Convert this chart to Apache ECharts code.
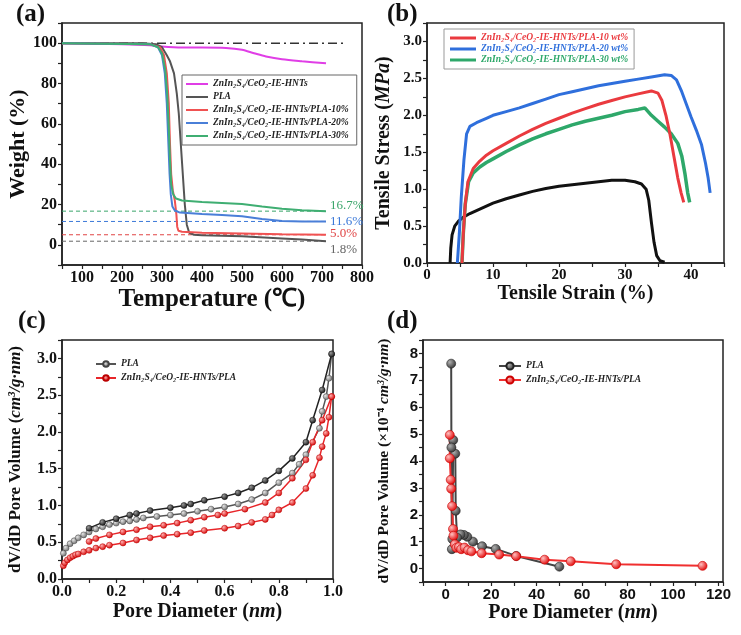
<!DOCTYPE html>
<html>
<head>
<meta charset="utf-8" />
<title>TGA / tensile / pore figure</title>
<script src="https://cdn.jsdelivr.net/npm/echarts@6.0.0/dist/echarts.min.js"></script>
<style>
  body { margin: 0; background: #fff; }
  #main { width: 741px; height: 635px; }
</style>
</head>
<body>
<div id="main"></div>
<script type="text/javascript">
    // ---- (a) TGA curves, [temperature, weight %]
    var tgaHnts = [[50,100],[200,99.5],[270,99],[300,98.3],[350,97.8],[400,97.8],[460,97.6],[500,96.7],[530,95],[560,93.4],[600,92],[650,91],[710,90]];
    var tgaPla = [[50,100],[250,100],[285,99.5],[300,98],[312,94],[320,91],[330,85],[337,75],[342,65],[347,50],[352,35],[357,20],[362,10],[368,6],[380,5],[400,4.7],[500,4.2],[600,3.2],[650,2.6],[710,1.8]];
    var tga10 = [[50,100],[270,99.5],[295,98],[305,94],[312,85],[317,70],[320,50],[323,35],[327,27],[332,22],[336,15],[338,9],[341,7],[350,6.5],[400,6],[500,5.6],[600,5.2],[710,5]];
    var tga20 = [[50,100],[270,99.5],[290,98],[300,94],[307,85],[312,70],[316,50],[319,35],[322,25],[326,19],[332,17],[345,16],[400,15.3],[450,14.8],[500,14.2],[550,12.8],[600,11.8],[650,11.6],[710,11.6]];
    var tga30 = [[50,100],[270,99.5],[290,98],[300,95],[308,87],[313,75],[317,58],[320,42],[323,30],[328,25],[335,23],[350,22],[400,21.2],[450,20.8],[500,20.2],[550,19],[600,17.9],[650,17.1],[710,16.6]];
    var residues = [16.7, 11.6, 5.0, 1.8];
    var residueText = ['16.7%', '11.6%', '5.0%', '1.8%'];

    // ---- (b) stress-strain, [strain %, stress MPa]
    var ssPla = [[3.5,0],[3.6,0.2],[3.8,0.38],[4.2,0.5],[4.8,0.57],[5.5,0.62],[6.5,0.67],[8,0.73],[10,0.81],[12,0.87],[14,0.92],[16,0.97],[18,1.01],[20,1.04],[22,1.06],[24,1.08],[26,1.1],[28,1.12],[30,1.12],[31.5,1.1],[32.5,1.07],[33.2,1.0],[33.6,0.85],[34,0.55],[34.4,0.28],[34.8,0.1],[35.3,0.03],[36,0.01]];
    var ss10 = [[5.3,0],[5.5,0.4],[5.8,0.8],[6.2,1.1],[7,1.28],[8,1.38],[9,1.46],[10,1.52],[12,1.62],[14,1.72],[16,1.81],[18,1.89],[20,1.96],[22,2.03],[24,2.09],[26,2.15],[28,2.2],[30,2.25],[32,2.29],[34,2.33],[35,2.3],[35.6,2.2],[36.2,2.0],[36.8,1.75],[37.4,1.45],[38,1.15],[38.5,0.95],[38.9,0.82]];
    var ss20 = [[4.6,0],[4.9,0.4],[5.2,0.9],[5.6,1.4],[6,1.75],[6.5,1.85],[7.5,1.9],[9,1.96],[10,2.0],[12,2.05],[14,2.1],[16,2.16],[18,2.22],[20,2.28],[22,2.32],[24,2.36],[26,2.4],[28,2.43],[30,2.46],[32,2.49],[34,2.52],[36,2.55],[37,2.54],[37.8,2.48],[38.6,2.32],[39.3,2.15],[40,1.98],[40.8,1.8],[41.6,1.6],[42.2,1.35],[42.6,1.15],[42.9,0.95]];
    var ss30 = [[5.3,0],[5.5,0.4],[5.8,0.8],[6.3,1.1],[7,1.22],[8,1.3],[9,1.36],[10,1.41],[12,1.51],[14,1.6],[16,1.68],[18,1.75],[20,1.81],[22,1.87],[24,1.92],[26,1.96],[28,2.0],[30,2.05],[32,2.08],[33,2.1],[34,2.0],[35,1.92],[36,1.84],[37,1.75],[38,1.62],[38.6,1.45],[39.1,1.2],[39.5,0.95],[39.8,0.82]];

    // ---- (c) two branches per sample
    var cPlaAds = [[0.005,0.35],[0.015,0.42],[0.03,0.48],[0.045,0.52],[0.06,0.56],[0.08,0.6],[0.1,0.64],[0.125,0.68],[0.15,0.71],[0.175,0.74],[0.2,0.76],[0.225,0.78],[0.25,0.79],[0.275,0.81],[0.3,0.83],[0.35,0.85],[0.4,0.87],[0.45,0.89],[0.5,0.92],[0.55,0.95],[0.6,0.98],[0.65,1.02],[0.7,1.08],[0.75,1.17],[0.8,1.31],[0.85,1.44],[0.875,1.56],[0.9,1.69],[0.95,2.05],[0.96,2.28],[0.975,2.48],[0.985,2.73],[0.995,3.06]];
    var cPlaDes = [[0.995,3.06],[0.96,2.57],[0.925,2.16],[0.9,1.86],[0.85,1.64],[0.8,1.47],[0.75,1.34],[0.7,1.24],[0.65,1.17],[0.6,1.12],[0.525,1.07],[0.475,1.02],[0.45,1.0],[0.4,0.97],[0.325,0.93],[0.275,0.89],[0.25,0.87],[0.2,0.82],[0.15,0.77],[0.1,0.69]];
    var cCompAds = [[0.005,0.18],[0.01,0.22],[0.02,0.26],[0.03,0.29],[0.04,0.31],[0.05,0.33],[0.06,0.34],[0.08,0.37],[0.1,0.39],[0.125,0.42],[0.15,0.44],[0.175,0.46],[0.225,0.49],[0.275,0.53],[0.325,0.56],[0.375,0.59],[0.425,0.61],[0.475,0.63],[0.525,0.66],[0.6,0.69],[0.65,0.72],[0.7,0.77],[0.75,0.81],[0.775,0.87],[0.8,0.94],[0.85,1.04],[0.9,1.23],[0.925,1.41],[0.95,1.65],[0.96,1.8],[0.975,1.98],[0.985,2.2],[0.995,2.48]];
    var cCompDes = [[0.995,2.48],[0.96,2.16],[0.925,1.86],[0.9,1.62],[0.85,1.37],[0.8,1.17],[0.75,1.04],[0.675,0.95],[0.6,0.89],[0.575,0.87],[0.525,0.84],[0.475,0.8],[0.425,0.76],[0.375,0.73],[0.325,0.71],[0.275,0.67],[0.225,0.64],[0.175,0.6],[0.125,0.55],[0.1,0.51]];

    // ---- (d) pore size distribution
    var dPla = [[50,0.07],[31,0.47],[22,0.73],[16,0.83],[12,1.0],[9.5,1.18],[8,1.25],[6.5,1.27],[5,1.15],[4.4,2.15],[4.2,4.27],[3.3,4.78],[2.9,1.1],[2.7,0.72],[2.5,4.5],[2.4,7.62]];
    var dComp = [[1.8,4.97],[1.8,4.1],[2.2,3.3],[2.4,2.97],[2.8,2.32],[3.2,1.47],[3.4,1.22],[4,0.9],[4.7,0.77],[5.8,0.8],[6.8,0.72],[8.3,0.78],[9.8,0.68],[11.3,0.64],[15.8,0.57],[23.5,0.52],[31,0.46],[43.5,0.33],[55,0.27],[75,0.16],[113,0.1]];

    var SERIF = "'Liberation Serif','Times New Roman',serif";
    var SANS = "'Liberation Sans',Arial,sans-serif";
    var ZN = 'ZnIn₂S₄/CeO₂-IE-HNTs';

    function ball(light, dark) {
        return { type: 'radial', x: 0.35, y: 0.35, r: 0.7,
            colorStops: [{ offset: 0, color: light }, { offset: 1, color: dark }] };
    }

    function axis(grid, min, max, step, fmt, font, size, name, gap, nameSize) {
        return {
            type: 'value', gridIndex: grid, min: min, max: max, interval: step,
            name: name, nameLocation: 'middle', nameGap: gap,
            nameTextStyle: { fontFamily: SERIF, fontWeight: 'bold', fontSize: nameSize, color: '#111',
                rich: { i: { fontFamily: SERIF, fontWeight: 'bold', fontStyle: 'italic', fontSize: nameSize, color: '#111' } } },
            axisLine: { show: true, onZero: false, lineStyle: { color: '#222', width: 1.5 } },
            axisTick: { show: true, inside: false, length: 4, lineStyle: { color: '#222', width: 1.2 } },
            axisLabel: { formatter: fmt, fontFamily: font, fontWeight: 'bold', fontSize: size, color: '#111', margin: 5 },
            splitLine: { show: false }
        };
    }

    var grids = [
        { left: 62, top: 23, width: 300, height: 242 },
        { left: 427, top: 23, width: 297, height: 240 },
        { left: 62, top: 340, width: 271, height: 239 },
        { left: 423, top: 340, width: 300, height: 242 }
    ].map(function (g) {
        g.show = true; g.borderColor = '#222'; g.borderWidth = 1.5; g.outerBoundsMode = 'none';
        return g;
    });

    var halfFmt = function (v) { return (Math.round(v * 100) % 50 === 0 && v <= 3) ? v.toFixed(1) : ''; };

    var xAxes = [
        axis(0, 50, 800, 50, function (v) { return v % 100 === 0 ? String(v) : ''; }, SERIF, 16, 'Temperature (℃)', 21, 25),
        axis(1, 0, 45, 5, function (v) { return (v % 10 === 0 && v <= 40) ? String(v) : ''; }, SERIF, 15, 'Tensile Strain (%)', 16, 20),
        axis(2, 0, 1, 0.1, function (v) { return Math.round(v * 10) % 2 === 0 ? v.toFixed(1) : ''; }, SERIF, 16, 'Pore Diameter ({i|nm})', 23, 20),
        axis(3, -10, 122, 10, function (v) { return (v >= 0 && v <= 120 && v % 20 === 0) ? String(v) : ''; }, SANS, 15, 'Pore Diameter ({i|nm})', 21, 20)
    ];
    var yAxes = [
        axis(0, -10, 110, 10, function (v) { return (v >= 0 && v <= 100 && v % 20 === 0) ? String(v) : ''; }, SERIF, 16, 'Weight (%)', 30, 22),
        axis(1, 0, 3.25, 0.25, halfFmt, SERIF, 15, 'Tensile Stress ({i|MPa})', 33, 20),
        axis(2, 0, 3.25, 0.25, halfFmt, SERIF, 16, 'dV/dD Pore Volume ({i|cm³/g·nm})', 38, 17),
        axis(3, -0.5, 8.5, 0.5, function (v) { return (Number.isInteger(v) && v >= 0 && v <= 8) ? String(v) : ''; }, SANS, 15, 'dV/dD Pore Volume (×10⁻⁴ {i|cm³/g·nm})', 31, 15.5)
    ];

    var series = [];
    function curve(name, grid, data, color, width, extra) {
        var s = { name: name, type: 'line', xAxisIndex: grid, yAxisIndex: grid, data: data,
            symbol: 'none', showSymbol: false, silent: true,
            lineStyle: { color: color, width: width }, itemStyle: { color: color } };
        for (var k in extra) s[k] = extra[k];
        series.push(s);
    }

    // (a)
    curve('dashdot', 0, [[50,100],[762,100]], '#333', 1.5, { lineStyle: { color: '#333', width: 1.5, type: [9, 4, 2, 4] } });
    var resColors = ['#3aa56a', '#3a78d8', '#e04545', '#666666'];
    var resOffsets = [[0, -6], [0, 0], [0, -1], [0, 8]];
    for (var i = 0; i < residues.length; i++) {
        curve('res' + i, 0, [[50, residues[i]], [710, residues[i]]], resColors[i], 1, {
            lineStyle: { color: resColors[i], width: 1, type: [4, 3] },
            endLabel: { show: true, formatter: residueText[i], color: resColors[i], fontFamily: SERIF,
                fontSize: 13, distance: 4, offset: resOffsets[i] }
        });
    }
    curve(ZN, 0, tgaHnts, '#e03ee6', 2, { smooth: 0.3 });
    curve('PLA', 0, tgaPla, '#555555', 2, {});
    curve(ZN + '/PLA-10%', 0, tga10, '#f05252', 2, {});
    curve(ZN + '/PLA-20%', 0, tga20, '#4a7fd8', 2, {});
    curve(ZN + '/PLA-30%', 0, tga30, '#3fae72', 2, {});

    // (b)
    curve('PLA#b', 1, ssPla, '#111111', 3, {});
    curve(ZN + '/PLA-30 wt%', 1, ss30, '#2ea86a', 3.5, {});
    curve(ZN + '/PLA-10 wt%', 1, ss10, '#ea3a3f', 3, {});
    curve(ZN + '/PLA-20 wt%', 1, ss20, '#2f6fdc', 3, {});

    // (c)
    var dot = { symbol: 'circle', showSymbol: true, symbolSize: 6 };
    curve('PLA#c', 2, cPlaAds, '#555555', 1.5, Object.assign({}, dot, { itemStyle: { color: ball('#e6e6e6', '#6a6a6a'), borderColor: '#444', borderWidth: 0.5 } }));
    curve('PLAdes#c', 2, cPlaDes, '#222222', 1.5, Object.assign({}, dot, { itemStyle: { color: ball('#9a9a9a', '#111'), borderColor: '#111', borderWidth: 0.5 } }));
    curve(ZN + '/PLA#c', 2, cCompAds, '#e8262a', 1.5, Object.assign({}, dot, { itemStyle: { color: ball('#ffb0b0', '#d40000'), borderColor: '#b00', borderWidth: 0.5 } }));
    curve('compdes#c', 2, cCompDes, '#e8262a', 1.5, Object.assign({}, dot, { itemStyle: { color: ball('#ffb0b0', '#d40000'), borderColor: '#b00', borderWidth: 0.5 } }));

    // (d)
    var bigDot = { symbol: 'circle', showSymbol: true, symbolSize: 9 };
    curve('PLA#d', 3, dPla, '#444444', 2, Object.assign({}, bigDot, { itemStyle: { color: ball('#b0b0b0', '#333'), borderColor: '#222', borderWidth: 0.6 } }));
    curve(ZN + '/PLA#d', 3, dComp, '#f03030', 2, Object.assign({}, bigDot, { itemStyle: { color: ball('#ffc0c0', '#e00000'), borderColor: '#c00', borderWidth: 0.6 } }));

    var legText = { fontFamily: SERIF, fontStyle: 'italic', fontWeight: 'bold', fontSize: 9.5, color: '#222' };
    var strip = function (n) { return n.split('#')[0]; };
    var legends = [
        { data: [ZN, 'PLA', ZN + '/PLA-10%', ZN + '/PLA-20%', ZN + '/PLA-30%'],
          left: 182, top: 75, orient: 'vertical', itemGap: 3, itemWidth: 22, itemHeight: 2, icon: 'rect',
          borderColor: '#666', borderWidth: 1, padding: [4, 8, 4, 4], textStyle: legText, selectedMode: false },
        { data: [
            { name: ZN + '/PLA-10 wt%', textStyle: { color: '#ea3a3f' } },
            { name: ZN + '/PLA-20 wt%', textStyle: { color: '#2f6fdc' } },
            { name: ZN + '/PLA-30 wt%', textStyle: { color: '#2ea86a' } }],
          left: 444, top: 29, orient: 'vertical', itemGap: 1, itemWidth: 26, itemHeight: 3, icon: 'rect',
          borderColor: '#999', borderWidth: 1, padding: [4, 6, 4, 6], textStyle: legText, selectedMode: false },
        { data: ['PLA#c', ZN + '/PLA#c'], formatter: strip,
          left: 90, top: 354, orient: 'vertical', itemGap: 4, itemWidth: 20, itemHeight: 7,
          textStyle: legText, selectedMode: false },
        { data: ['PLA#d', ZN + '/PLA#d'], formatter: strip,
          left: 493, top: 356, orient: 'vertical', itemGap: 4, itemWidth: 22, itemHeight: 9,
          textStyle: legText, selectedMode: false }
    ];

    var tagStyle = { fontFamily: SERIF, fontWeight: 'bold', fontSize: 25, color: '#111' };
    var option = {
        backgroundColor: '#FFFFFF',
        animation: false,
        title: [
            { text: '(a)', left: 16, top: 2, padding: 0, textStyle: tagStyle },
            { text: '(b)', left: 387, top: 2, padding: 0, textStyle: tagStyle },
            { text: '(c)', left: 18, top: 309, padding: 0, textStyle: tagStyle },
            { text: '(d)', left: 387, top: 309, padding: 0, textStyle: tagStyle }
        ],
        legend: legends,
        grid: grids,
        xAxis: xAxes,
        yAxis: yAxes,
        series: series
    };
    var myChart = echarts.init(document.getElementById('main'));
    myChart.setOption(option);
</script>
</body>
</html>
